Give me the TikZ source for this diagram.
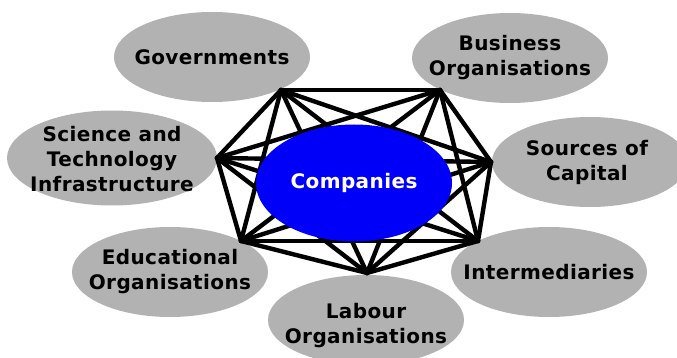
\documentclass[tikz,border=0pt]{standalone}
\usepackage{fontspec}
\newfontfamily\orgfont{DejaVu Sans}[LetterSpace=2]
\usetikzlibrary{shapes.geometric}
\definecolor{orggray}{RGB}{178,178,178}
\definecolor{compblue}{RGB}{0,0,250}

\begin{document}
\begin{tikzpicture}[x=1pt,y=-1pt,font=\orgfont\bfseries\fontsize{20}{25}\selectfont]
            % Define the styles
            \tikzstyle{org} = [ellipse, fill=orggray, minimum width=196pt, minimum height=90pt, inner sep=0pt]
            \tikzstyle{orgtext} = [align=center, inner sep=0pt]
            \tikzstyle{link} = [line width=4.4pt, black, line cap=round]

            \useasboundingbox (0,0) rectangle (677,358);
            \clip (0,0) rectangle (677,358);

            % Organisations around the companies
            \node[org] (gov) at (212,57) {};
            \node[org] (business) at (510,58) {};
            \node[org, minimum width=210pt, minimum height=95pt] (science) at (112,158) {};
            \node[org] (capital) at (590,162) {};
            \node[org] (intermed) at (549,272) {};
            \node[org] (labour) at (366,320) {};
            \node[org] (educ) at (170,272) {};

            \node[orgtext] at (gov) {Governments};
            \node[orgtext] at (business) {Business\\Organisations};
            \node[orgtext] at ([yshift=-1pt]science) {Science and\\Technology\\Infrastructure};
            \node[orgtext] at ([xshift=-3pt]capital) {Sources of\\Capital};
            \node[orgtext] at (intermed) {Intermediaries};
            \node[orgtext] at ([yshift=-6pt]labour) {Labour\\Organisations};
            \node[orgtext] at (educ) {Educational\\Organisations};

            % Corners of the network
            \coordinate (v1) at (281,90);
            \coordinate (v2) at (440,90);
            \coordinate (v3) at (491,162);
            \coordinate (v4) at (478,241);
            \coordinate (v5) at (367,273);
            \coordinate (v6) at (241,241);
            \coordinate (v7) at (217,158);

            % Every corner linked to every other one
            \foreach \a in {1,...,7}
              \foreach \b in {1,...,7}
                {\ifnum\a<\b \draw[link] (v\a) -- (v\b); \fi}

            % Companies in the middle
            \node[ellipse, fill=compblue, minimum width=196pt, minimum height=117pt, inner sep=0pt, text=white] (comp) at (354,183) {Companies};
        \end{tikzpicture}
\end{document}
